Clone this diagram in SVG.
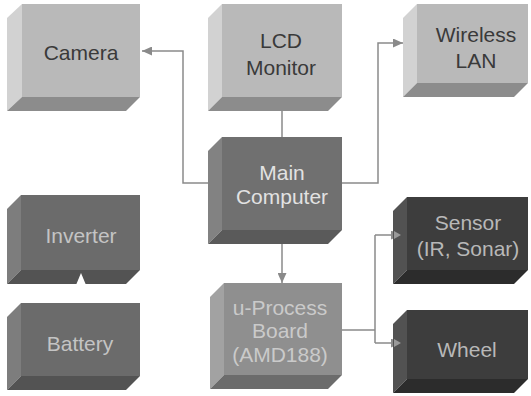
<svg xmlns="http://www.w3.org/2000/svg" width="531" height="396" viewBox="0 0 531 396">
<style>
text{font-family:"Liberation Sans",Arial,sans-serif;font-size:21px;text-anchor:middle}
.lf{fill:#b9b9b9}.ll{fill:#d2d2d2}.lb{fill:#8c8c8c}.lt{fill:#3a3a3a}
.mf{fill:#707070}.ml{fill:#828282}.mb{fill:#5a5a5a}.mt{fill:#e2e2e2}
.pf{fill:#6b6b6b}.pl{fill:#7d7d7d}.pb{fill:#535353}.pt{fill:#c4c4c4}
.uf{fill:#8f8f8f}.ul{fill:#a2a2a2}.ub{fill:#6c6c6c}.ut{fill:#cacaca}
.df{fill:#3d3d3d}.dl{fill:#525252}.db{fill:#2c2c2c}.dt{fill:#b8b8b8}
.c{fill:none;stroke:#8a8a8a;stroke-width:1.5}
</style>
<defs>
<marker id="ah" markerUnits="userSpaceOnUse" markerWidth="10" markerHeight="9" refX="10" refY="4.5" orient="auto"><path d="M0,0L10,4.5L0,9Z" fill="#8a8a8a"/></marker>
</defs>
<rect width="531" height="396" fill="#ffffff"/>
<g id="connectors">
<path class="c" d="M282,111V137"/>
<path class="c" d="M208,183H183V51H142" marker-end="url(#ah)"/>
<path class="c" d="M342,183H378V43H403" marker-end="url(#ah)"/>
<path class="c" d="M342,330H375"/>
<path class="c" d="M375,235V343"/>
<path class="c" d="M375,235H401" marker-end="url(#ah)"/>
<path class="c" d="M375,343H401" marker-end="url(#ah)"/>
</g>
<g id="camera">
<rect class="lf" x="22" y="4" width="118" height="93"/>
<polygon class="ll" points="22,4 7,18 7,111 22,97"/>
<polygon class="lb" points="22,97 140,97 126,111 7,111"/>
<text class="lt" x="81" y="60">Camera</text>
</g>
<g id="lcd">
<rect class="lf" x="222" y="4" width="120" height="93"/>
<polygon class="ll" points="222,4 208,18 208,111 222,97"/>
<polygon class="lb" points="222,97 342,97 328,111 208,111"/>
<text class="lt" x="281" y="48">LCD</text>
<text class="lt" x="281" y="75">Monitor</text>
</g>
<g id="wlan">
<rect class="lf" x="417" y="4" width="111" height="79"/>
<polygon class="ll" points="417,4 403,18 403,97 417,83"/>
<polygon class="lb" points="417,83 528,83 514,97 403,97"/>
<text class="lt" x="476" y="42">Wireless</text>
<text class="lt" x="476" y="68">LAN</text>
</g>
<g id="main">
<rect class="mf" x="222" y="137" width="120" height="93"/>
<polygon class="ml" points="222,137 208,151 208,244 222,230"/>
<polygon class="mb" points="222,230 342,230 328,244 208,244"/>
<text class="mt" x="282" y="180">Main</text>
<text class="mt" x="282" y="204">Computer</text>
</g>
<g id="inverter">
<rect class="pf" x="21" y="195" width="119" height="75"/>
<polygon class="pl" points="21,195 7,209 7,284 21,270"/>
<polygon class="pb" points="21,270 140,270 126,284 7,284"/>
<text class="pt" x="81" y="243">Inverter</text>
</g>
<g id="battery">
<rect class="pf" x="21" y="303" width="119" height="73"/>
<polygon class="pl" points="21,303 7,317 7,390 21,376"/>
<polygon class="pb" points="21,376 140,376 126,390 7,390"/>
<text class="pt" x="80" y="351">Battery</text>
</g>
<polygon points="76,285 81,273 86,285" fill="#ffffff"/>
<path class="c" d="M282,244V283" marker-end="url(#ah)"/>
<g id="uprocess">
<rect class="uf" x="224" y="283" width="118" height="92"/>
<polygon class="ul" points="224,283 210,297 210,389 224,375"/>
<polygon class="ub" points="224,375 342,375 328,389 210,389"/>
<text class="ut" x="280" y="315">u-Process</text>
<text class="ut" x="280" y="338">Board</text>
<text class="ut" x="280" y="362">(AMD188)</text>
</g>
<g id="sensor">
<rect class="df" x="407" y="197" width="121" height="73"/>
<polygon class="dl" points="407,197 393,211 393,284 407,270"/>
<polygon class="db" points="407,270 528,270 514,284 393,284"/>
<text class="dt" x="468" y="230">Sensor</text>
<text class="dt" x="468" y="256">(IR, Sonar)</text>
</g>
<g id="wheel">
<rect class="df" x="407" y="310" width="121" height="69"/>
<polygon class="dl" points="407,310 393,324 393,393 407,379"/>
<polygon class="db" points="407,379 528,379 514,393 393,393"/>
<text class="dt" x="467" y="357">Wheel</text>
</g>
<path d="M394,231L401,235L394,239Z" fill="#9a9a9a"/>
<path d="M394,339L401,343L394,347Z" fill="#9a9a9a"/>
</svg>
